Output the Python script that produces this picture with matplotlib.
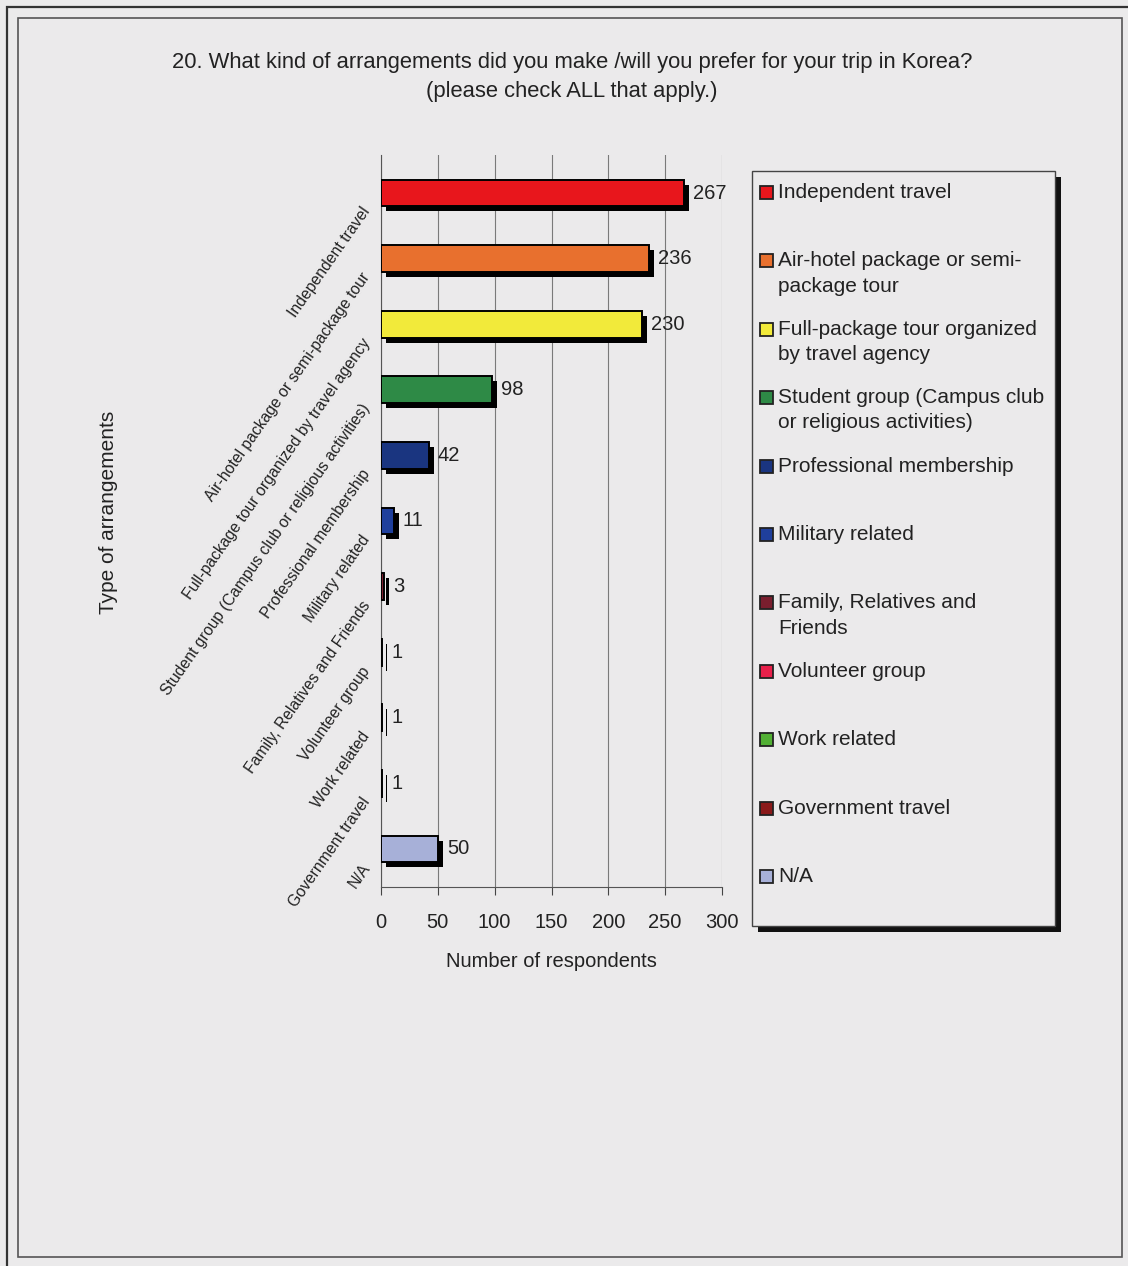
import matplotlib
matplotlib.use("Agg")
import matplotlib.pyplot as plt
import matplotlib.patheffects as pe
from matplotlib.patches import Rectangle
import numpy as np

plt.rcParams['font.family'] = ['Liberation Sans', 'DejaVu Sans']

categories = ["Independent travel",
              "Air-hotel package or semi-package tour",
              "Full-package tour organized by travel agency",
              "Student group (Campus club or religious activities)",
              "Professional membership",
              "Military related",
              "Family, Relatives and Friends",
              "Volunteer group",
              "Work related",
              "Government travel",
              "N/A"]
legend_labels = ["Independent travel",
                 "Air-hotel package or semi-\npackage tour",
                 "Full-package tour organized\nby travel agency",
                 "Student group (Campus club\nor religious activities)",
                 "Professional membership",
                 "Military related",
                 "Family, Relatives and\nFriends",
                 "Volunteer group",
                 "Work related",
                 "Government travel",
                 "N/A"]
values = [267, 236, 230, 98, 42, 11, 3, 1, 1, 1, 50]
colors = ["#e8161c", "#e8702e", "#f2ea3a", "#2e8a46", "#1a3580", "#1f3f9c",
          "#7a1e2e", "#e8204a", "#52b034", "#8a1a1a", "#a7b0d8"]
xticks = [0, 50, 100, 150, 200, 250, 300]

title = ("20. What kind of arrangements did you make /will you prefer for your trip in Korea?\n"
         "(please check ALL that apply.)")
xlabel = "Number of respondents"
ylabel = "Type of arrangements"

W, H = 1128, 1266
bg = "#ebeaeb"
fig = plt.figure(figsize=(W / 100, H / 100), dpi=100, facecolor=bg)

def fx(x):
    return x / W

def fy(y):
    return 1 - y / H

# frames
fig.patches.append(Rectangle((fx(7), fy(1300)), fx(1200), fy(7) - fy(1300), transform=fig.transFigure,
                             fill=False, edgecolor="#333333", lw=1.6))
fig.patches.append(Rectangle((fx(18), fy(1257)), fx(1122) - fx(18), fy(18) - fy(1257), transform=fig.transFigure,
                             fill=False, edgecolor="#555555", lw=1.2))

ax = fig.add_axes([fx(381), fy(887), fx(722) - fx(381), fy(155) - fy(887)])
ax.set_facecolor("none")
y = np.arange(len(categories))
bars = ax.barh(y, values, height=0.41, color=colors, edgecolor="black", linewidth=1.4, zorder=3)
for b in bars:
    b.set_path_effects([pe.SimplePatchShadow(offset=(3.6, -3.6), shadow_rgbFace="black", alpha=1.0),
                        pe.Normal()])
for yi, v in zip(y, values):
    ax.annotate(str(v), xy=(v, yi), xytext=(9, 0), textcoords="offset pixels",
                ha="left", va="center", fontsize=14.5, color="#222222")

ax.set_xlim(0, 300)
ax.set_ylim(len(categories) - 0.42, -0.58)
ax.set_xticks(xticks)
ax.set_xticklabels([str(t) for t in xticks], fontsize=14.5, color="#222222")
ax.tick_params(axis="x", direction="out", length=6, width=0.8, pad=13, color="#444444")
ax.set_yticks(y)
ax.set_yticklabels([])
ax.tick_params(axis="y", length=0)
ax.grid(axis="x", color="#7a7a7a", lw=0.8, zorder=0)
for s in ["top", "right"]:
    ax.spines[s].set_visible(False)
ax.spines["left"].set_color("#555555")
ax.spines["bottom"].set_color("#555555")
ax.set_xlabel(xlabel, fontsize=14.5, labelpad=14, color="#222222")

for yi, lab in zip(y, categories):
    ax.annotate(lab, xy=(0, yi), xytext=(-14, -16), textcoords="offset pixels",
                ha="right", va="center", rotation=55, rotation_mode="anchor",
                fontsize=11.3, color="#222222", annotation_clip=False)

fig.text(fx(108), fy(512), ylabel, rotation=90, ha="center", va="center", fontsize=15, color="#222222")
fig.text(fx(572), fy(77), title, ha="center", va="center", fontsize=15.8, color="#222222",
         linespacing=1.55)

# legend
leg = Rectangle((fx(752), fy(926)), fx(1055) - fx(752), fy(171) - fy(926), transform=fig.transFigure,
                facecolor=bg, edgecolor="#444444", lw=1.0, zorder=1)
leg.set_path_effects([pe.SimplePatchShadow(offset=(4, -4), shadow_rgbFace="#111111", alpha=1.0), pe.Normal()])
fig.patches.append(leg)
ypos = np.linspace(192, 876, len(legend_labels))
for yp, lab, c in zip(ypos, legend_labels, colors):
    fig.patches.append(Rectangle((fx(760), fy(yp + 7)), fx(13), fy(0) - fy(13), transform=fig.transFigure,
                                 facecolor=c, edgecolor="#222222", lw=1.3, zorder=2))
    fig.text(fx(778), fy(yp - 9), lab, ha="left", va="top", fontsize=15, color="#222222",
             linespacing=1.42, zorder=3)

fig.savefig("out.png", dpi=100, facecolor=bg)
